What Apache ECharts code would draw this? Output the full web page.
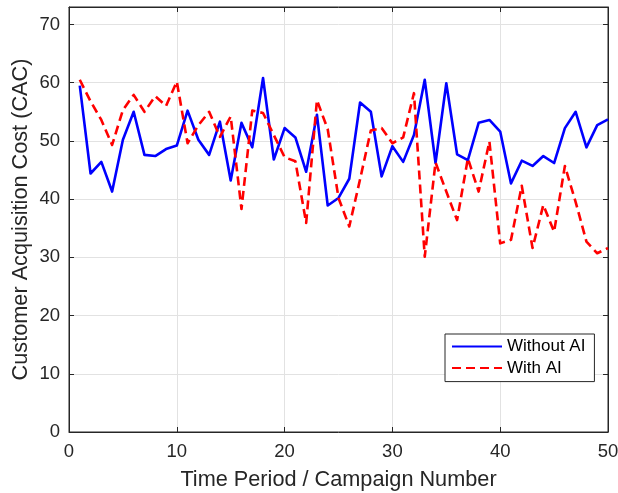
<!DOCTYPE html>
<html>
<head>
<meta charset="utf-8">
<script src="https://cdn.jsdelivr.net/npm/echarts@6/dist/echarts.min.js"></script>
<style>
html,body{margin:0;padding:0;background:#fff;}
#c{width:618px;height:493px;}
</style>
</head>
<body>
<div id="c"></div>
<script>
const periods = [1,2,3,4,5,6,7,8,9,10,11,12,13,14,15,16,17,18,19,20,21,22,23,24,25,26,27,28,29,30,31,32,33,34,35,36,37,38,39,40,41,42,43,44,45,46,47,48,49,50];
const withoutAI = [59.5,44.4,46.4,41.3,50.2,55.0,47.6,47.4,48.6,49.2,55.2,50.2,47.6,53.3,43.2,53.1,48.9,60.8,46.8,52.2,50.6,44.7,54.5,38.9,40.2,43.5,56.6,55.0,43.9,49.1,46.4,51.0,60.5,46.2,59.9,47.7,46.7,53.1,53.6,51.6,42.7,46.6,45.7,47.4,46.2,52.2,55.0,48.9,52.7,53.7];
const withAI = [60.5,56.8,53.6,49.3,55.3,57.9,55.0,57.7,56.0,60.2,49.6,52.7,55.0,50.7,54.2,38.3,55.2,54.8,51.0,47.2,46.5,35.9,57.0,52.0,40.2,35.3,43.4,51.8,52.2,49.6,50.6,58.2,30.1,46.3,41.3,36.4,47.0,41.3,49.9,32.4,33.0,42.3,31.6,39.0,34.4,45.7,39.5,32.7,30.7,31.6];
const seriesNames = ['Without AI','With AI'];
const xTitle = 'Time Period / Campaign Number';
const yTitle = 'Customer Acquisition Cost (CAC)';

const FONT = '"Liberation Sans", Arial, Helvetica, sans-serif';
const AX = '#262626';
const GRIDC = '#e2e2e2';

const chart = echarts.init(document.getElementById('c'), null, {renderer:'canvas'});
const pair = (ys) => periods.map((x,i)=>[x, ys[i]]);

const tickFmt = v => (Math.abs(v % 10) < 1e-9 ? String(v) : '');

chart.setOption({
  animation:false,
  backgroundColor:'#fff',
  grid:{left:69, right:10, top:7, bottom:61, show:true, borderColor:AX, borderWidth:1, containLabel:false, outerBoundsMode:'none'},
  legend:{
    left:445, top:334, orient:'vertical',
    data:seriesNames,
    backgroundColor:'#fff', borderColor:AX, borderWidth:1, borderRadius:0,
    padding:[4,9,5,6],
    itemWidth:50, itemHeight:17, itemGap:4.6,
    itemStyle:{opacity:0},
    textStyle:{fontFamily:FONT, fontSize:17, color:'#000', lineHeight:17}
  },
  xAxis:[{
    type:'value', min:0, max:50, interval:10,
    name:xTitle, nameLocation:'middle', nameGap:37,
    nameTextStyle:{fontFamily:FONT, fontSize:21.7, color:AX},
    axisLine:{show:true, onZero:false, lineStyle:{color:AX, width:1}},
    axisTick:{show:true, inside:true, length:5, lineStyle:{color:AX}},
    axisLabel:{fontFamily:FONT, fontSize:18.5, color:AX, margin:10},
    splitLine:{show:true, lineStyle:{color:GRIDC, width:1}}
  },{
    type:'value', min:0, max:50, interval:10, position:'top',
    axisLine:{show:true, onZero:false, lineStyle:{color:AX, width:1}},
    axisTick:{show:true, inside:true, length:5, lineStyle:{color:AX}},
    axisLabel:{show:false}, splitLine:{show:false}
  }],
  yAxis:[{
    type:'value', min:0, max:73, interval:10,
    name:yTitle, nameLocation:'middle', nameGap:37, nameRotate:90, nameMoveOverlap:false,
    nameTextStyle:{fontFamily:FONT, fontSize:21.7, color:AX},
    axisLine:{show:true, onZero:false, lineStyle:{color:AX, width:1}},
    axisTick:{show:true, inside:true, length:5, lineStyle:{color:AX}},
    axisLabel:{fontFamily:FONT, fontSize:18.5, color:AX, margin:9, formatter:tickFmt, showMaxLabel:false},
    splitLine:{show:true, lineStyle:{color:GRIDC, width:1}}
  },{
    type:'value', min:0, max:73, interval:10, position:'right',
    axisLine:{show:true, onZero:false, lineStyle:{color:AX, width:1}},
    axisTick:{show:true, inside:true, length:5, lineStyle:{color:AX}},
    axisLabel:{show:false}, splitLine:{show:false}
  }],
  series:[{
    name:seriesNames[0], type:'line', data:pair(withoutAI),
    xAxisIndex:0, yAxisIndex:0,
    symbol:'none', showSymbol:false,
    lineStyle:{color:'#0000ff', width:2.6, join:'round'},
    itemStyle:{color:'#0000ff'}
  },{
    name:seriesNames[1], type:'line', data:pair(withAI),
    xAxisIndex:0, yAxisIndex:0,
    symbol:'none', showSymbol:false,
    lineStyle:{color:'#ff0000', width:2.6, type:[9,5], join:'round'},
    itemStyle:{color:'#ff0000'}
  }]
});
</script>
</body>
</html>
